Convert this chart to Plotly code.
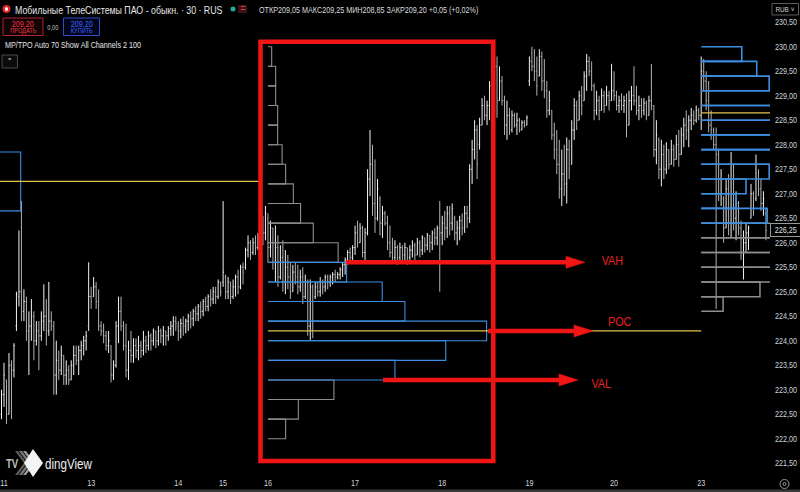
import plotly.graph_objects as go

# ------------------------------------------------------------------ data
day_labels = ["11", "13", "14", "15", "16", "17", "18", "19", "20", "23"]
bars_per_day = [35, 35, 18, 18, 35, 35, 35, 34, 35, 27]
pre_bars = 2  # tail of the previous session visible at the left edge

opens = [
    222.6, 222.5,
    222.9, 223.2, 222.5, 223.5, 223.4, 224.3, 224.9, 225.0, 224.6, 224.8, 224.2, 224.3, 224.5, 224.0, 224.2,
    224.1, 224.4, 224.5, 224.2, 224.4, 224.3, 223.3, 223.6, 223.4, 223.7, 223.3, 223.4, 223.2, 223.5, 223.7,
    223.6, 223.8, 223.9, 224.0, 224.3,
    224.9, 224.9, 225.1, 224.8, 224.3, 224.2, 224.1, 223.9, 223.9, 223.3, 223.5, 224.3, 224.6, 224.3, 223.9,
    223.4, 223.8, 223.7, 223.9, 223.8, 223.9, 223.8, 224.0, 223.9, 224.1, 224.0, 224.2, 224.0, 224.2, 224.1,
    224.2, 224.1, 224.25, 224.3, 224.4,
    224.3, 224.2, 224.35, 224.3, 224.4, 224.5, 224.45, 224.6, 224.55, 224.7, 224.6, 224.8, 224.7, 224.9,
    224.85, 225.0, 224.9, 225.2,
    225.2, 225.3, 225.0, 225.2, 224.9, 225.1, 225.3, 225.1, 225.5, 225.5, 225.85, 226.0, 225.8, 226.0, 225.9,
    226.1, 226.3, 226.2,
    226.5, 225.9, 226.3, 225.6, 225.9, 225.3, 225.7, 225.2, 225.5, 225.3, 225.0, 225.4, 225.3, 225.1, 225.3,
    224.9, 225.2, 224.3, 225.1, 224.9, 225.1, 225.0, 225.2, 225.1, 225.3, 225.2, 225.3, 225.35, 225.3, 225.35,
    225.45, 225.55, 225.65, 225.8, 225.7,
    225.9, 226.2, 226.0, 226.3, 225.8, 226.2, 227.3, 227.6, 226.8, 226.5, 226.9, 226.4, 226.6, 226.4, 226.0,
    225.8, 225.7, 225.9, 225.7, 225.9, 225.75, 225.9, 225.7, 225.85, 225.95, 225.75, 226.0, 225.85, 226.1,
    225.95, 226.15, 226.0, 226.2, 226.1, 226.3,
    226.2, 226.4, 226.3, 226.6, 226.4, 226.5, 226.2, 226.3, 226.45, 226.3, 226.6, 226.5, 227.5, 227.9, 228.3,
    228.0, 228.4, 228.8, 228.6, 228.8, 229.2, 228.9, 229.6, 228.9, 229.3, 228.9, 228.4, 228.6, 228.3, 228.6,
    228.4, 228.5, 228.3, 228.45, 228.4,
    229.3, 229.7, 229.6, 229.5, 229.4, 229.8, 229.3, 229.1, 228.7, 228.7, 228.2, 227.9, 227.6, 227.1, 227.4,
    227.2, 227.9, 227.6, 228.3, 228.8, 228.5, 229.0, 228.9, 229.4, 229.7, 229.5, 229.2, 228.7, 228.9, 228.7,
    229.0, 228.8, 229.0, 228.9,
    229.1, 229.0, 228.8, 228.9, 228.8, 228.9, 228.4, 228.9, 229.0, 228.9, 228.7, 228.8, 228.7, 228.85, 228.6,
    228.9, 228.8, 227.9, 228.1, 227.5, 227.8, 227.5, 227.9, 227.6, 227.9, 227.7, 228.0, 227.8, 228.2, 228.4,
    228.3, 228.5, 228.6, 228.5, 228.7,
    228.6, 229.5, 229.3, 228.9, 228.4, 228.3, 228.0, 227.8, 227.0, 226.9, 226.3, 227.1, 226.4, 227.6, 226.5,
    226.8, 226.3, 225.8, 226.0, 226.2, 226.5, 227.0, 226.9, 227.6, 227.1, 226.8, 226.6,
]
highs = [
    222.8, 223.0,
    223.55, 223.2, 223.75, 223.6, 223.95, 225.0, 226.25, 226.85, 225.05, 224.9, 224.6, 224.85, 224.6, 224.4,
    224.4, 224.6, 225.15, 224.85, 225.2, 224.6, 224.4, 224.0, 223.8, 223.9, 223.7, 223.6, 223.5, 223.6, 223.9,
    223.9, 223.9, 224.0, 224.1, 224.2, 225.6,
    225.1, 225.3, 225.2, 225.05, 224.4, 224.35, 224.2, 224.2, 223.9, 223.6, 224.4, 224.9, 224.9, 224.4, 224.35,
    224.0, 224.2, 224.05, 224.05, 224.1, 224.0, 224.2, 224.1, 224.2, 224.15, 224.25, 224.2, 224.3, 224.25,
    224.3, 224.2, 224.3, 224.4, 224.5, 224.5,
    224.4, 224.45, 224.5, 224.45, 224.55, 224.6, 224.65, 224.7, 224.75, 224.8, 224.85, 224.9, 224.95, 225.05,
    225.1, 225.1, 225.25, 225.2,
    226.85, 225.35, 225.3, 225.2, 225.25, 225.35, 225.45, 225.55, 225.6, 225.9, 226.15, 226.05, 226.1, 226.15,
    226.2, 226.35, 226.55, 226.75,
    226.6, 226.45, 226.3, 226.35, 226.15, 225.95, 226.05, 225.85, 225.75, 225.6, 225.55, 225.6, 225.55, 225.45,
    225.5, 225.35, 225.25, 225.25, 225.15, 225.2, 225.2, 225.3, 225.25, 225.35, 225.35, 225.35, 225.4, 225.45,
    225.4, 225.5, 225.6, 225.7, 225.85, 225.9, 225.95,
    226.35, 226.45, 226.4, 226.35, 226.3, 227.5, 228.3, 228.0, 227.7, 227.3, 226.95, 226.75, 226.65, 226.55,
    226.35, 226.1, 226.05, 225.95, 226.0, 225.95, 226.0, 225.9, 225.95, 226.05, 226.0, 226.1, 226.05, 226.15,
    226.1, 226.2, 226.15, 226.25, 226.3, 226.35, 226.85,
    226.55, 226.65, 226.75, 226.75, 226.8, 226.55, 226.45, 226.55, 226.6, 226.75, 226.75, 227.6, 228.1, 228.5,
    228.4, 228.55, 228.95, 229.0, 228.9, 229.3, 229.8, 229.75, 229.8, 229.6, 229.4, 229.0, 228.9, 228.75,
    228.7, 228.65, 228.65, 228.55, 228.5, 228.5, 228.6,
    229.8, 230.0, 229.95, 229.8, 229.95, 229.9, 229.75, 229.3, 229.1, 228.7, 228.45, 228.3, 228.1, 227.9,
    228.0, 228.15, 228.1, 228.5, 228.95, 228.9, 229.1, 229.2, 229.5, 229.85, 229.8, 229.7, 229.25, 229.1,
    229.0, 229.15, 229.1, 229.2, 229.1, 229.65,
    229.5, 229.1, 229.0, 229.05, 229.0, 229.05, 229.1, 229.2, 229.6, 229.2, 229.0, 228.95, 228.95, 228.9,
    229.0, 229.65, 228.8, 228.5, 228.15, 228.1, 228.0, 228.05, 227.9, 228.1, 228.0, 228.2, 228.3, 228.35,
    228.55, 228.7, 228.6, 228.75, 228.7, 228.8, 228.75,
    229.8, 229.75, 229.5, 229.3, 228.7, 228.35, 228.35, 227.9, 227.5, 226.95, 227.3, 227.4, 227.85, 227.6,
    227.05, 226.85, 226.45, 226.25, 226.4, 226.35, 227.2, 227.05, 227.8, 227.5, 227.3, 227.05, 226.7,
]
lows = [
    222.3, 222.4,
    222.65, 222.3, 222.5, 222.4, 223.25, 224.2, 224.7, 224.4, 224.4, 224.0, 223.3, 224.0, 223.6, 223.9, 223.4,
    224.0, 224.2, 223.9, 224.1, 224.2, 222.9, 222.9, 223.2, 223.3, 223.1, 223.1, 223.1, 223.2, 223.3, 223.5,
    223.3, 223.6, 223.7, 223.8, 224.2,
    224.65, 224.9, 224.65, 224.2, 224.1, 223.95, 223.8, 223.75, 223.15, 223.2, 223.45, 223.95, 224.2, 223.8,
    223.25, 223.2, 223.55, 223.55, 223.65, 223.6, 223.65, 223.7, 223.75, 223.8, 223.8, 223.9, 223.85, 223.9,
    223.95, 223.9, 223.9, 224.0, 224.1, 224.1, 224.2,
    224.0, 224.05, 224.1, 224.15, 224.2, 224.25, 224.3, 224.4, 224.4, 224.45, 224.5, 224.6, 224.6, 224.7,
    224.75, 224.75, 224.85, 224.9,
    225.1, 224.85, 224.85, 224.75, 224.85, 224.9, 224.95, 225.05, 225.15, 225.45, 225.7, 225.65, 225.75,
    225.75, 225.85, 225.9, 225.95, 226.05,
    225.6, 225.7, 225.45, 225.2, 225.1, 225.25, 225.0, 224.95, 225.05, 224.85, 225.0, 225.15, 224.95, 225.0,
    224.75, 224.85, 224.1, 224.0, 224.05, 224.85, 224.9, 224.9, 224.95, 225.0, 225.05, 225.1, 225.15, 225.2,
    225.25, 225.25, 225.3, 225.35, 225.55, 225.6, 225.6,
    225.75, 225.9, 226.0, 225.7, 225.6, 226.15, 226.95, 226.55, 226.2, 226.45, 226.15, 226.1, 226.35, 225.85,
    225.7, 225.6, 225.6, 225.55, 225.6, 225.65, 225.6, 225.55, 225.6, 225.7, 225.6, 225.75, 225.7, 225.75,
    225.8, 225.85, 225.8, 225.85, 225.95, 225.95, 225.0,
    225.95, 226.05, 226.1, 226.15, 226.25, 226.05, 225.95, 226.05, 226.15, 226.2, 226.3, 226.4, 227.2, 227.7,
    227.3, 227.9, 228.4, 228.5, 228.4, 228.5, 228.55, 228.8, 228.55, 228.9, 228.8, 228.2, 228.1, 228.2,
    228.25, 228.35, 228.2, 228.25, 228.3, 228.35, 228.4,
    229.2, 229.5, 229.3, 229.0, 229.4, 229.1, 228.95, 228.55, 228.6, 228.1, 227.7, 227.4, 226.9, 226.75,
    226.95, 226.8, 227.3, 227.6, 228.1, 228.3, 228.5, 228.6, 228.9, 229.1, 229.4, 229.1, 228.5, 228.6, 228.5,
    228.7, 228.65, 228.8, 228.7, 228.9,
    228.9, 228.7, 228.65, 228.7, 228.65, 228.15, 228.4, 228.7, 228.8, 228.6, 228.5, 228.55, 228.6, 228.5,
    228.6, 228.7, 227.75, 227.6, 227.3, 227.15, 227.3, 227.4, 227.5, 227.6, 227.55, 227.7, 227.55, 227.8,
    227.95, 228.1, 227.95, 228.3, 228.4, 228.45, 228.5,
    228.3, 229.1, 228.7, 228.25, 228.1, 227.9, 224.65, 226.85, 226.75, 226.0, 226.3, 226.15, 226.1, 226.25,
    226.05, 226.15, 225.65, 225.25, 225.8, 225.85, 226.5, 226.55, 226.85, 226.95, 226.65, 226.55, 226.05,
]
closes = [
    222.5, 222.9,
    223.3, 222.5, 223.5, 223.4, 223.9, 224.95, 225.0, 224.6, 224.8, 224.2, 224.3, 224.5, 224.0, 224.2, 224.1,
    224.4, 224.5, 224.2, 224.4, 224.3, 223.3, 223.6, 223.4, 223.7, 223.3, 223.4, 223.2, 223.5, 223.7, 223.6,
    223.8, 223.9, 224.0, 224.1, 224.9,
    224.8, 225.1, 224.8, 224.3, 224.2, 224.1, 223.9, 224.0, 223.3, 223.5, 224.3, 224.6, 224.3, 223.9, 223.4,
    223.8, 223.7, 223.9, 223.8, 223.9, 223.8, 224.0, 223.9, 224.1, 224.0, 224.2, 224.0, 224.2, 224.1, 224.2,
    224.1, 224.25, 224.3, 224.4, 224.35,
    224.2, 224.35, 224.3, 224.4, 224.5, 224.45, 224.6, 224.55, 224.7, 224.6, 224.8, 224.7, 224.9, 224.85,
    225.0, 224.9, 225.2, 225.0,
    225.4, 225.0, 225.2, 224.9, 225.1, 225.3, 225.1, 225.5, 225.4, 225.85, 226.0, 225.8, 226.0, 225.9, 226.1,
    226.3, 226.2, 226.6,
    225.9, 226.3, 225.6, 225.9, 225.3, 225.7, 225.2, 225.5, 225.3, 225.0, 225.4, 225.3, 225.1, 225.3, 224.9,
    225.2, 224.3, 225.1, 224.4, 225.1, 225.0, 225.2, 225.1, 225.3, 225.2, 225.3, 225.35, 225.3, 225.35, 225.45,
    225.55, 225.65, 225.8, 225.7, 225.9,
    226.2, 226.0, 226.3, 225.8, 226.2, 227.3, 227.6, 226.8, 226.5, 227.1, 226.4, 226.6, 226.4, 226.0, 225.8,
    225.7, 225.9, 225.7, 225.9, 225.75, 225.9, 225.7, 225.85, 225.95, 225.75, 226.0, 225.85, 226.1, 225.95,
    226.15, 226.0, 226.2, 226.1, 226.3, 226.2,
    226.4, 226.3, 226.6, 226.4, 226.7, 226.2, 226.3, 226.45, 226.3, 226.6, 226.5, 227.5, 227.9, 228.3, 227.6,
    228.4, 228.8, 228.6, 228.8, 229.2, 228.9, 229.6, 228.9, 229.3, 228.9, 228.4, 228.6, 228.3, 228.6, 228.4,
    228.5, 228.3, 228.45, 228.4, 228.55,
    229.7, 229.6, 229.5, 229.2, 229.8, 229.3, 229.1, 228.7, 228.9, 228.2, 227.9, 227.6, 227.1, 227.4, 227.2,
    227.9, 227.5, 228.3, 228.8, 228.5, 229.0, 228.8, 229.4, 229.7, 229.5, 229.2, 228.7, 228.9, 228.7, 229.0,
    228.8, 229.0, 228.9, 229.1,
    229.0, 228.8, 228.9, 228.8, 228.9, 228.4, 228.9, 229.0, 228.9, 228.7, 228.8, 228.7, 228.85, 228.6, 228.9,
    228.8, 227.9, 228.2, 227.5, 227.8, 227.5, 227.9, 227.6, 227.9, 227.7, 228.0, 227.8, 228.2, 228.4, 228.3,
    228.5, 228.6, 228.5, 228.7, 228.6,
    229.5, 229.3, 228.9, 228.4, 228.3, 228.0, 227.8, 227.0, 227.3, 226.3, 227.1, 226.4, 227.6, 226.5, 226.8,
    226.3, 225.8, 226.0, 226.2, 226.3, 227.0, 226.7, 227.6, 227.1, 226.8, 226.9, 226.25,
]

price_ticks = [230.5, 230.0, 229.5, 229.0, 228.5, 228.0, 227.5, 227.0, 226.5, 226.0,
               225.5, 225.0, 224.5, 224.0, 223.5, 223.0, 222.5, 222.0, 221.5]

# Market profile (MP/TPO) of sessions 16-18: row tops, row height, widths in bars
p1_row_tops = [230.0, 229.6, 229.2, 228.8, 228.4, 228.0, 227.6, 227.2, 226.8, 226.4,
               226.0, 225.6, 225.2, 224.8, 224.4, 224.0, 223.6, 223.2, 222.8, 222.4]
p1_row_height = 0.4
p1_widths = [1.5, 3.1, 3.1, 3.9, 3.9, 5.7, 7.1, 10.2, 13.1, 18.2,
             28.2, 31.6, 45.9, 55.0, 87.8, 71.4, 51.0, 26.5, 12.2, 7.1]
p1_vah, p1_poc, p1_val = 225.6, 224.2, 223.2

# previous profile (only its widest row is visible at the left edge)
p2_left_bar = -80
p2_row_tops = [227.85]
p2_row_height = 1.2
p2_widths = [86.7]
p2_poc = 227.25

# profile of session 23
p3_row_tops = [230.0, 229.7, 229.4, 229.1, 228.8, 228.5, 228.2, 227.9, 227.6, 227.3,
               227.0, 226.7, 226.4, 226.1, 225.8, 225.5, 225.2, 224.9]
p3_row_height = 0.3
p3_widths = [16.3, 22.3, 27.3, 34.0, 40.0, 36.0, 33.0, 30.0, 27.3, 18.0,
             14.0, 26.5, 31.0, 33.0, 32.0, 30.0, 23.6, 8.8]
p3_vah, p3_poc, p3_val = 230.0, 228.65, 226.4

# ------------------------------------------------------------------ derived
day_starts = []
acc = 0
for n in bars_per_day:
    day_starts.append(acc)
    acc += n
xs = list(range(-pre_bars, -pre_bars + len(opens)))

W, H = 800, 492
ML, MR, MT, MB = 0, 30, 0, 16
PW, PH = W - ML - MR, H - MT - MB
X_RANGE = [-1.606, 307.63]
Y_RANGE = [221.24, 230.953]


def bx(px):  # pixel x -> bar coordinate
    return X_RANGE[0] + (px - ML) / PW * (X_RANGE[1] - X_RANGE[0])


def vy(py):  # pixel y -> price
    return Y_RANGE[1] - (py - MT) / PH * (Y_RANGE[1] - Y_RANGE[0])


def pxp(px):  # pixel x -> paper
    return (px - ML) / PW


def pyp(py):  # pixel y -> paper
    return 1 - (py - MT) / PH


BLUE = "#3d8ee0"
GRAY = "#8e8e8e"
YELLOW = "#e2c24a"
RED = "#f21515"
TXT = "#d1d4dc"
FONT = "Liberation Sans, Arial, sans-serif"

fig = go.Figure()


def profile_paths(left, tops, height, widths, val, vah):
    g = ([], [])
    b = ([], [])
    for top, w in zip(tops, widths):
        bot = round(top - height, 4)
        inside = bot >= val - 1e-6 and top <= vah + 1e-6
        tgt = b if inside else g
        tgt[0].extend([left, left + w, left + w, left, None])
        tgt[1].extend([top, top, bot, bot, None])
    return g, b


g1, b1 = profile_paths(day_starts[4], p1_row_tops, p1_row_height, p1_widths, p1_val, p1_vah)
g3, b3 = profile_paths(day_starts[9], p3_row_tops, p3_row_height, p3_widths, p3_val, p3_vah)
g2, b2 = profile_paths(p2_left_bar, p2_row_tops, p2_row_height, p2_widths, 0, 999)

for (gx, gy), lw in [(g1, 1.1), (g3, 1.5)]:
    fig.add_trace(go.Scatter(x=gx, y=gy, mode="lines", line=dict(color=GRAY, width=lw),
                             hoverinfo="skip", showlegend=False))
for (bx_, by_), lw in [(b1, 1.1), (b2, 1.1), (b3, 1.6)]:
    fig.add_trace(go.Scatter(x=bx_, y=by_, mode="lines", line=dict(color=BLUE, width=lw),
                             hoverinfo="skip", showlegend=False))

# POC lines (extended until the next profile starts)
poc_x = [p2_left_bar, day_starts[4] - 2.4, None,
         day_starts[4], day_starts[9], None,
         day_starts[9], day_starts[9] + max(p3_widths)]
poc_y = [p2_poc, p2_poc, None, p1_poc, p1_poc, None, p3_poc, p3_poc]
fig.add_trace(go.Scatter(x=poc_x, y=poc_y, mode="lines", line=dict(color=YELLOW, width=1.3),
                         hoverinfo="skip", showlegend=False))

fig.add_trace(go.Ohlc(
    x=xs, open=opens, high=highs, low=lows, close=closes,
    increasing=dict(line=dict(color="#f2f2f2", width=1)),
    decreasing=dict(line=dict(color="#b2b2b2", width=1)),
    tickwidth=0.35, hoverinfo="skip", showlegend=False,
))

shapes = []
annotations = []


def label(x, y, text, size, color, family=FONT, xanchor="left", yref="paper", **kw):
    d = dict(xref="paper", yref=yref, x=pxp(x), y=(pyp(y) if yref == "paper" else y),
             text=text, showarrow=False, xanchor=xanchor, yanchor="middle",
             align=("left" if xanchor == "left" else "center"),
             font=dict(family=family, size=size, color=color))
    d.update(kw)
    annotations.append(d)


# red highlight rectangle
shapes.append(dict(type="rect", xref="paper", yref="paper",
                   x0=pxp(260.5), x1=pxp(493.3), y0=pyp(461), y1=pyp(41.7),
                   line=dict(color=RED, width=4.5), fillcolor="rgba(0,0,0,0)", layer="above"))

# arrows VAH / POC / VAL
arrows = [
    (bx(346), p1_vah, bx(585), "VAH", 612, 260),
    (bx(488), p1_poc, bx(593), "POC", 620, 321),
    (bx(383), p1_val, bx(578), "VAL", 601, 383),
]
hl = (bx(19) - bx(0))
hh = (vy(0) - vy(6))
for x0, y0, xt, text, lx, ly in arrows:
    shapes.append(dict(type="line", xref="x", yref="y", x0=x0, x1=xt - hl * 0.8, y0=y0, y1=y0,
                       line=dict(color=RED, width=4.5), layer="above"))
    shapes.append(dict(type="path", xref="x", yref="y",
                       path=f"M{xt - hl},{y0 + hh} L{xt},{y0} L{xt - hl},{y0 - hh} Z",
                       fillcolor=RED, line=dict(color=RED, width=0.5), layer="above"))
    label(lx, ly, text, 13.5, "#e82222", xanchor="center")

# ---------------- header (TradingView legend)
shapes.append(dict(type="circle", xref="paper", yref="paper",
                   x0=pxp(2.5), x1=pxp(10.5), y0=pyp(13), y1=pyp(5),
                   fillcolor="#e3262b", line=dict(width=0)))
shapes.append(dict(type="circle", xref="paper", yref="paper",
                   x0=pxp(5), x1=pxp(8), y0=pyp(11), y1=pyp(7),
                   fillcolor="#ffffff", line=dict(width=0)))
label(13, 9.5, "Мобильные ТелеСистемы ПАО - обыкн. · 30 · RUS", 11, "#e6e6e6")
shapes.append(dict(type="circle", xref="paper", yref="paper",
                   x0=pxp(230.5), x1=pxp(235.5), y0=pyp(11.5), y1=pyp(6.5),
                   fillcolor="#22ab94", line=dict(width=0)))
shapes.append(dict(type="rect", xref="paper", yref="paper",
                   x0=pxp(238), x1=pxp(247), y0=pyp(13), y1=pyp(5),
                   fillcolor="#3a1118", line=dict(width=0)))
label(242.5, 8.5, "=", 10, "#f23645", xanchor="center")
label(257, 9.5, "ОТКР209,05 МАКС209,25 МИН208,85 ЗАКР209,20 +0,05 (+0,02%)", 9, "#dcdcdc")

# sell / buy buttons
shapes.append(dict(type="rect", xref="paper", yref="paper", x0=pxp(3), x1=pxp(43),
                   y0=pyp(35.5), y1=pyp(18), line=dict(color="#b0232f", width=1), fillcolor="#120305"))
shapes.append(dict(type="rect", xref="paper", yref="paper", x0=pxp(63.5), x1=pxp(99.5),
                   y0=pyp(35.5), y1=pyp(18), line=dict(color="#2a4bd0", width=1), fillcolor="#03061a"))
for cx, col, word in [(23, "#f23645", "ПРОДАТЬ"), (81.5, "#3d62ff", "КУПИТЬ")]:
    label(cx, 23.5, "209,20", 9, col, xanchor="center")
    label(cx, 31, word, 7, col, xanchor="center")
label(53, 27, "0,00", 7, "#c8c8c8", xanchor="center")
label(3, 45, "MP/TPO Auto 70 Show All Channels 2 100", 9, "#e6e6e6")
shapes.append(dict(type="rect", xref="paper", yref="paper", x0=pxp(2), x1=pxp(17.5),
                   y0=pyp(68), y1=pyp(55), line=dict(color="#4a4a4a", width=1), fillcolor="#0c0c0c"))
label(9.8, 63.5, "ˆ", 11, "#e0e0e0", family="DejaVu Sans", xanchor="center")

# currency box top-right
shapes.append(dict(type="rect", xref="paper", yref="paper", x0=pxp(772), x1=pxp(798.5),
                   y0=pyp(15), y1=pyp(3.5), line=dict(color="#5a5a5a", width=1), fillcolor="#000"))
label(785, 9.3, "RUB ˅", 8, "#d0d0d0", xanchor="center")

# last price label
label(786, closes[-1], f"{closes[-1]:.2f}".replace(".", ","), 9, "#e0e0e0", xanchor="center",
      yref="y", bgcolor="#000000", bordercolor="#9a9a9a", borderwidth=1, borderpad=1)

# settings icon bottom right
shapes.append(dict(type="circle", xref="paper", yref="paper", x0=pxp(780), x1=pxp(789),
                   y0=pyp(488.5), y1=pyp(479.5), line=dict(color="#9a9a9a", width=1)))
shapes.append(dict(type="circle", xref="paper", yref="paper", x0=pxp(783), x1=pxp(786),
                   y0=pyp(485.5), y1=pyp(482.5), line=dict(color="#9a9a9a", width=1)))

# bottom border strip
shapes.append(dict(type="rect", xref="paper", yref="paper", x0=pxp(0), x1=pxp(800),
                   y0=pyp(492), y1=pyp(489.5), line=dict(width=0), fillcolor="#3a3a3a"))

# TradingView logo (bottom-left)
for i, c in enumerate(["#5a5a5a", "#7a7a7a", "#9a9a9a"]):
    off = 15 + i * 4
    shapes.append(dict(type="path", xref="paper", yref="paper",
                       path=f"M{pxp(off)},{pyp(451)} L{pxp(off + 9)},{pyp(463)} L{pxp(off)},{pyp(475)} "
                            f"L{pxp(off + 3)},{pyp(475)} L{pxp(off + 12)},{pyp(463)} L{pxp(off + 3)},{pyp(451)} Z",
                       fillcolor=c, line=dict(width=0)))
shapes.append(dict(type="path", xref="paper", yref="paper",
                   path=f"M{pxp(33)},{pyp(449)} L{pxp(43)},{pyp(463)} L{pxp(33)},{pyp(477)} "
                        f"L{pxp(24)},{pyp(463)} Z",
                   fillcolor="#f4f4f4", line=dict(width=0)))
label(4, 464, "<b>TV</b>", 12, "#bdbdbd")
label(43, 464, "dingView", 14.5, "#f0f0f0")

fig.update_layout(
    width=W, height=H,
    margin=dict(l=ML, r=MR, t=MT, b=MB, autoexpand=False),
    paper_bgcolor="#000000", plot_bgcolor="#000000",
    showlegend=False, hovermode=False,
    shapes=shapes, annotations=annotations,
    xaxis=dict(range=X_RANGE, showgrid=False, zeroline=False, showline=False,
               tickvals=day_starts, ticktext=day_labels, ticks="", automargin=False,
               ticklabeloverflow="allow",
               tickfont=dict(family=FONT, size=9, color=TXT),
               rangeslider=dict(visible=False), fixedrange=True),
    yaxis=dict(range=Y_RANGE, side="right", showgrid=False, zeroline=False, showline=False,
               tickvals=price_ticks, ticktext=[f"{v:.2f}".replace(".", ",") for v in price_ticks],
               ticks="", ticklabelstandoff=4, automargin=False, ticklabeloverflow="allow",
               tickfont=dict(family=FONT, size=9, color=TXT), fixedrange=True),
)

# the reference screenshot is horizontally condensed: squeeze every text run to 80 % width
post_js = """
document.body.style.margin='0';
document.body.style.background='#000';
var gd = document.getElementById('{plot_id}');
gd.querySelectorAll('text').forEach(function(t){
  var w = t.getComputedTextLength();
  if (!w) return;
  t.setAttribute('lengthAdjust', 'spacingAndGlyphs');
  t.setAttribute('textLength', (w * 0.8).toFixed(2));
});
"""

fig.write_html("out.html", config={"displayModeBar": False}, post_script=post_js)
